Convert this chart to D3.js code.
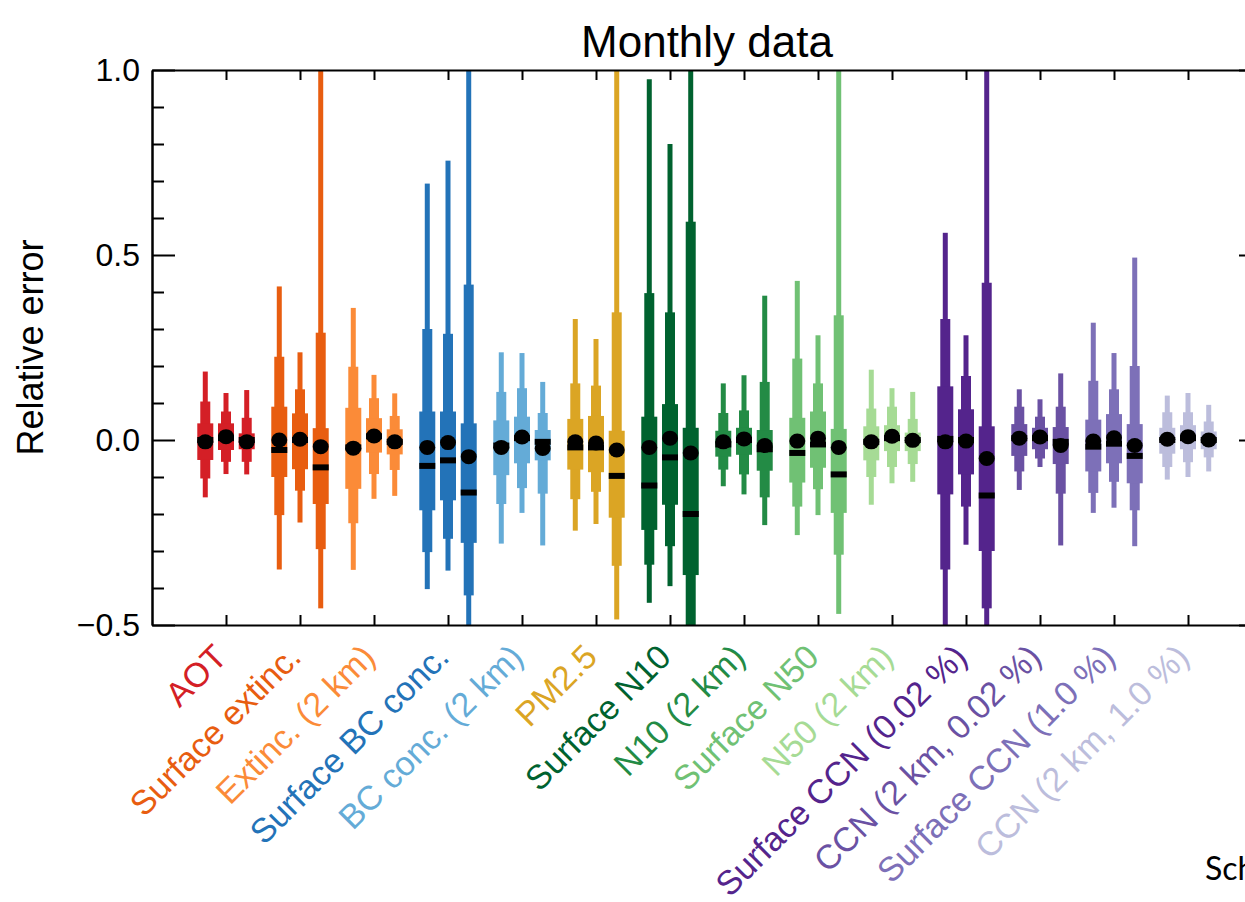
<!DOCTYPE html>
<html>
<head>
<meta charset="utf-8">
<script src="https://cdn.jsdelivr.net/npm/d3@7"></script>
<style>
  body { margin: 0; background: #fff; }
  svg { display: block; font-family: "Liberation Sans", Arial, Helvetica, sans-serif; }
</style>
</head>
<body>
<svg id="chart" width="1245" height="902"></svg>
<script>
const categories = ["AOT", "Surface extinc.", "Extinc. (2 km)", "Surface BC conc.", "BC conc. (2 km)",
  "PM2.5", "Surface N10", "N10 (2 km)", "Surface N50", "N50 (2 km)",
  "Surface CCN (0.02 %)", "CCN (2 km, 0.02 %)", "Surface CCN (1.0 %)", "CCN (2 km, 1.0 %)"];

const colors = ["#d41f26", "#e85d10", "#fb8b38", "#2373b8", "#64abd7",
  "#dba524", "#00622f", "#238b45", "#70c174", "#a6db95",
  "#54248c", "#6a51a3", "#7d70b8", "#bcbddc"];

// three boxes per category (left, middle, right)
const whiskerHi = [
  [0.185, 0.127, 0.135], [0.415, 0.237, 1.2], [0.357, 0.176, 0.126], [0.693, 0.755, 1.2],
  [0.237, 0.235, 0.157], [0.327, 0.273, 1.2], [0.975, 0.80, 1.2], [0.153, 0.175, 0.39],
  [0.43, 0.283, 1.2], [0.19, 0.14, 0.13], [0.56, 0.283, 1.2], [0.137, 0.11, 0.18],
  [0.317, 0.235, 0.493], [0.12, 0.127, 0.095]];
const outerHi = [
  [0.104, 0.077, 0.06], [0.225, 0.137, 0.29], [0.198, 0.113, 0.065], [0.30, 0.287, 0.42],
  [0.13, 0.14, 0.073], [0.153, 0.147, 0.345], [0.397, 0.345, 0.59], [0.073, 0.08, 0.157],
  [0.22, 0.153, 0.337], [0.085, 0.09, 0.057], [0.327, 0.173, 0.425], [0.09, 0.063, 0.09],
  [0.16, 0.137, 0.20], [0.075, 0.075, 0.05]];
const boxHi = [
  [0.045, 0.045, 0.018], [0.09, 0.072, 0.032], [0.087, 0.059, 0.029], [0.077, 0.077, 0.045],
  [0.053, 0.063, 0.027], [0.057, 0.065, 0.025], [0.063, 0.097, 0.033], [0.025, 0.033, 0.027],
  [0.06, 0.077, 0.03], [0.037, 0.04, 0.02], [0.145, 0.083, 0.037], [0.043, 0.033, 0.035],
  [0.055, 0.07, 0.043], [0.033, 0.04, 0.023]];
const boxLo = [
  [-0.054, -0.027, -0.025], [-0.1, -0.079, -0.173], [-0.132, -0.034, -0.039], [-0.19, -0.163, -0.278],
  [-0.095, -0.063, -0.055], [-0.08, -0.087, -0.21], [-0.243, -0.175, -0.365], [-0.045, -0.04, -0.083],
  [-0.115, -0.075, -0.197], [-0.055, -0.03, -0.03], [-0.147, -0.093, -0.30], [-0.043, -0.025, -0.065],
  [-0.085, -0.063, -0.117], [-0.037, -0.025, -0.025]];
const outerLo = [
  [-0.104, -0.059, -0.059], [-0.203, -0.137, -0.295], [-0.225, -0.092, -0.081], [-0.303, -0.267, -0.42],
  [-0.173, -0.13, -0.145], [-0.16, -0.14, -0.34], [-0.337, -0.287, -0.55], [-0.08, -0.093, -0.155],
  [-0.18, -0.133, -0.31], [-0.10, -0.073, -0.065], [-0.35, -0.18, -0.455], [-0.085, -0.05, -0.145],
  [-0.143, -0.113, -0.19], [-0.073, -0.06, -0.047]];
const whiskerLo = [
  [-0.155, -0.092, -0.093], [-0.35, -0.223, -0.455], [-0.351, -0.159, -0.151], [-0.403, -0.353, -0.7],
  [-0.28, -0.197, -0.285], [-0.245, -0.227, -0.485], [-0.44, -0.395, -0.7], [-0.125, -0.147, -0.23],
  [-0.257, -0.203, -0.47], [-0.175, -0.117, -0.113], [-0.7, -0.283, -0.7], [-0.135, -0.073, -0.285],
  [-0.197, -0.183, -0.287], [-0.107, -0.10, -0.085]];
const medians = [
  [0.0, 0.005, 0.0], [-0.027, 0.0, -0.074], [-0.02, 0.01, -0.005], [-0.07, -0.055, -0.142],
  [-0.015, 0.005, -0.005], [-0.02, -0.02, -0.097], [-0.123, -0.047, -0.2], [-0.012, 0.0, -0.025],
  [-0.035, -0.012, -0.093], [-0.005, 0.005, 0.0], [0.003, 0.0, -0.15], [0.005, 0.005, -0.005],
  [-0.018, -0.01, -0.043], [0.0, 0.005, 0.0]];
const means = [
  [-0.005, 0.009, -0.005], [0.0, 0.002, -0.018], [-0.022, 0.011, -0.005], [-0.02, -0.007, -0.045],
  [-0.02, 0.008, -0.023], [-0.005, -0.008, -0.027], [-0.02, 0.005, -0.035], [-0.005, 0.003, -0.015],
  [-0.003, 0.005, -0.02], [-0.005, 0.01, -0.001], [-0.005, -0.003, -0.05], [0.005, 0.008, -0.015],
  [-0.003, 0.006, -0.015], [0.002, 0.009, 0.0]];

const yMajor = [-0.5, 0.0, 0.5, 1.0];
const yMinor = [-0.4, -0.3, -0.2, -0.1, 0.1, 0.2, 0.3, 0.4, 0.6, 0.7, 0.8, 0.9];

const svg = d3.select("#chart");
const x = d3.scaleLinear().domain([0, 15]).range([152, 1262]);
const y = d3.scaleLinear().domain([-0.5, 1.0]).range([625, 70]);
const offsets = [-0.28, 0, 0.28];

const boxes = [];
categories.forEach((c, i) => {
  offsets.forEach((o, j) => {
    boxes.push({
      pos: i + 1 + o, color: colors[i],
      wLo: whiskerLo[i][j], wHi: whiskerHi[i][j],
      oLo: outerLo[i][j], oHi: outerHi[i][j],
      bLo: boxLo[i][j], bHi: boxHi[i][j],
      med: medians[i][j], mean: means[i][j]
    });
  });
});

svg.append("clipPath").attr("id", "plot")
  .append("rect")
  .attr("x", x(0)).attr("y", y(1.0))
  .attr("width", x(15) - x(0)).attr("height", y(-0.5) - y(1.0));

const marks = svg.append("g").attr("clip-path", "url(#plot)");

// thin, medium and thick bars
const layers = [["wLo", "wHi", 5], ["oLo", "oHi", 10], ["bLo", "bHi", 16]];
layers.forEach(([lo, hi, w]) => {
  marks.selectAll(null)
    .data(boxes)
    .enter()
    .append("rect")
    .attr("x", (d) => x(d.pos) - w / 2)
    .attr("width", w)
    .attr("y", (d) => y(d[hi]))
    .attr("height", (d) => y(d[lo]) - y(d[hi]))
    .attr("fill", (d) => d.color);
});

marks.selectAll(null)
  .data(boxes)
  .enter()
  .append("rect")
  .attr("x", (d) => x(d.pos) - 8)
  .attr("width", 16)
  .attr("y", (d) => y(d.med) - 3)
  .attr("height", 6)
  .attr("fill", "#000");

marks.selectAll(null)
  .data(boxes)
  .enter()
  .append("ellipse")
  .attr("cx", (d) => x(d.pos))
  .attr("cy", (d) => y(d.mean))
  .attr("rx", 8)
  .attr("ry", 7.5)
  .attr("fill", "#000");

// axes, ticks pointing inward
const styleAxis = (g) => {
  g.selectAll("path.domain").attr("stroke", "#000").attr("stroke-width", 2);
  g.selectAll(".tick line").attr("stroke", "#000").attr("stroke-width", 2);
};

svg.append("g")
  .attr("transform", "translate(" + x(0) + ",0)")
  .call(d3.axisLeft(y).tickValues(yMajor).tickSize(-23).tickSizeOuter(0).tickPadding(12)
    .tickFormat((d) => d3.format(".1f")(d).replace("-", "\u2212")))
  .call(styleAxis)
  .call((g) => g.selectAll("text").attr("font-size", 32).attr("fill", "#000")
    .attr("font-family", "Liberation Sans, Arial, sans-serif"));

svg.append("g")
  .attr("transform", "translate(" + x(0) + ",0)")
  .call(d3.axisLeft(y).tickValues(yMinor).tickSize(-12).tickSizeOuter(0).tickFormat(""))
  .call(styleAxis);

svg.append("g")
  .attr("transform", "translate(" + x(15) + ",0)")
  .call(d3.axisRight(y).tickValues(yMajor).tickSize(-23).tickSizeOuter(0).tickFormat(""))
  .call(styleAxis);

svg.append("g")
  .attr("transform", "translate(" + x(15) + ",0)")
  .call(d3.axisRight(y).tickValues(yMinor).tickSize(-12).tickSizeOuter(0).tickFormat(""))
  .call(styleAxis);

const catTicks = d3.range(1, 15);
svg.append("g")
  .attr("transform", "translate(0," + y(-0.5) + ")")
  .call(d3.axisBottom(x).tickValues(catTicks).tickSize(-10).tickSizeOuter(0).tickFormat(""))
  .call(styleAxis);

svg.append("g")
  .attr("transform", "translate(0," + y(1.0) + ")")
  .call(d3.axisTop(x).tickValues(catTicks).tickSize(-10).tickSizeOuter(0).tickFormat(""))
  .call(styleAxis);

// category labels
svg.selectAll(null)
  .data(categories)
  .enter()
  .append("text")
  .attr("transform", (d, i) => "translate(" + (x(i + 1) + 3) + "," + (y(-0.5) + 34) + ") rotate(-45)")
  .attr("text-anchor", "end")
  .attr("font-size", 34)
  .attr("fill", (d, i) => colors[i])
  .text((d) => d);

svg.append("text")
  .attr("x", (x(0) + x(15)) / 2)
  .attr("y", 57)
  .attr("text-anchor", "middle")
  .attr("font-size", 44)
  .attr("fill", "#000")
  .text("Monthly data");

svg.append("text")
  .attr("transform", "translate(43," + (y(-0.5) + y(1.0)) / 2 + ") rotate(-90)")
  .attr("text-anchor", "middle")
  .attr("font-size", 36)
  .attr("fill", "#000")
  .text("Relative error");

svg.append("text")
  .attr("x", 1205)
  .attr("y", 880)
  .attr("font-family", "Lato, 'Open Sans', sans-serif")
  .attr("font-size", 32)
  .attr("fill", "#000")
  .text("Schutgens et al.");
</script>
</body>
</html>
